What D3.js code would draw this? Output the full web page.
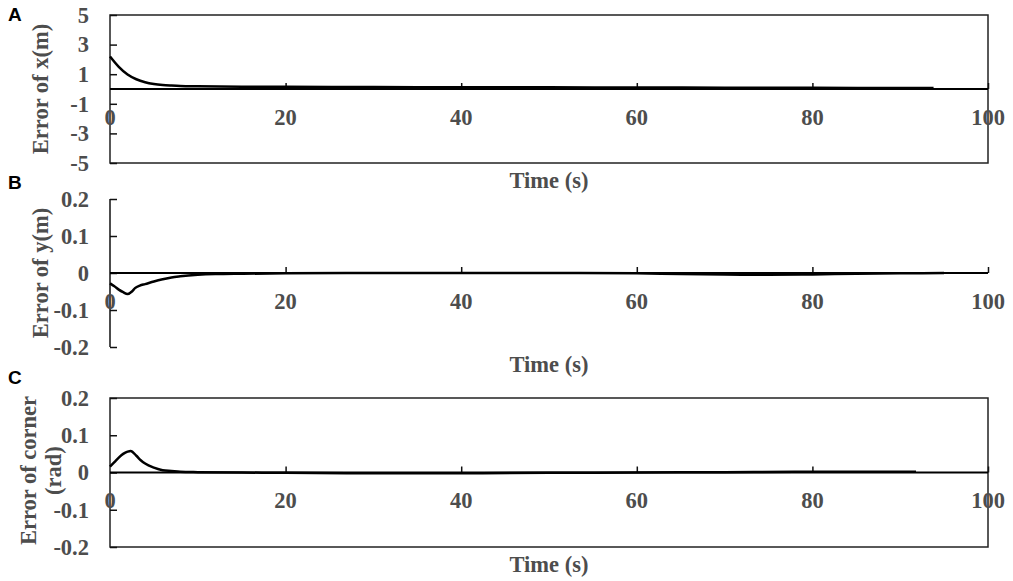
<!DOCTYPE html>
<html>
<head>
<meta charset="utf-8">
<script src="https://cdn.jsdelivr.net/npm/d3@7"></script>
<style>
  html, body { margin: 0; padding: 0; background: #fff; }
  svg { display: block; }
</style>
</head>
<body>
<svg id="chart" width="1013" height="581"></svg>
<script>
// ---------- data ----------
const xTicks = [0, 20, 40, 60, 80, 100];

const timeA = [0, 1, 2, 3, 4, 5, 6, 7, 8, 10, 15, 20, 30, 40, 50, 60, 70, 80, 90, 93.8];
const errX  = [2.2, 1.5, 0.98, 0.66, 0.46, 0.34, 0.27, 0.23, 0.2, 0.18, 0.16, 0.15, 0.13, 0.12, 0.11, 0.1, 0.09, 0.08, 0.07, 0.07];
const yTicksA = [-5, -3, -1, 1, 3, 5];

const timeB = [0, 0.5, 1, 1.5, 2, 2.5, 2.85, 3.4, 4, 5, 6, 7, 8, 10, 12, 15, 20, 30, 40, 50, 60, 65, 70, 75, 80, 85, 90, 95];
const errY  = [-0.028, -0.036, -0.045, -0.052, -0.057, -0.05, -0.041, -0.034, -0.03, -0.023, -0.017, -0.012, -0.009, -0.005, -0.003, -0.002, -0.001, 0, 0, 0, -0.001, -0.003, -0.004, -0.005, -0.004, -0.002, -0.001, 0];
const yTicksB = [-0.2, -0.1, 0, 0.1, 0.2];

const timeC = [0, 0.5, 1, 1.5, 2, 2.35, 3, 3.5, 4, 5, 6, 7, 8, 10, 15, 20, 30, 40, 50, 60, 70, 78, 85, 91.8];
const errC  = [0.016, 0.028, 0.04, 0.05, 0.056, 0.058, 0.045, 0.033, 0.024, 0.013, 0.006, 0.004, 0.002, 0.001, 0, -0.001, -0.002, -0.002, -0.001, 0, 0.001, 0.002, 0.002, 0.002];
const yTicksC = [-0.2, -0.1, 0, 0.1, 0.2];

const panelLetters = ["A", "B", "C"];
const yTitles = [["Error of x(m)"], ["Error of y(m)"], ["Error of corner", "(rad)"]];
const xTitle = "Time (s)";

// ---------- layout ----------
const svg = d3.select("#chart");
const left = 110, right = 988;
const x = d3.scaleLinear().domain([0, 100]).range([left, right]);

const hy = s => s.replace("\u2212", "-");
const fmtInt = d => hy(d3.format("d")(d));
const fmtDec = d => d === 0 ? "0" : hy(d3.format(".1f")(d));

const panels = [
  { top: 15,  bottom: 163, domain: [-5, 5],     ticks: yTicksA, t: timeA, v: errX, box: true,  letterY: 21,  fmt: fmtInt },
  { top: 199, bottom: 347, domain: [-0.2, 0.2], ticks: yTicksB, t: timeB, v: errY, box: false, letterY: 189, fmt: fmtDec },
  { top: 398, bottom: 547, domain: [-0.2, 0.2], ticks: yTicksC, t: timeC, v: errC, box: true,  letterY: 384, fmt: fmtDec }
];

const serif = "'Liberation Serif', 'Times New Roman', Times, serif";
const textCol = "#4d4d4d";

panels.forEach((p, i) => {
  const y = d3.scaleLinear().domain(p.domain).range([p.bottom, p.top]);
  const g = svg.append("g");
  const y0 = y(0);

  // box or left axis
  if (p.box) {
    g.append("rect")
      .attr("x", left).attr("y", p.top)
      .attr("width", right - left).attr("height", p.bottom - p.top)
      .attr("fill", "none").attr("stroke", "#222").attr("stroke-width", 1.5);
  } else {
    g.append("line")
      .attr("x1", left).attr("x2", left).attr("y1", p.top).attr("y2", p.bottom)
      .attr("stroke", "#111").attr("stroke-width", 1.5);
  }

  // y ticks (inward) + labels
  const yAxis = d3.axisRight(y).tickValues(p.ticks).tickSize(7).tickFormat("");
  const ya = g.append("g").attr("transform", `translate(${left},0)`).call(yAxis);
  ya.select(".domain").remove();
  ya.selectAll(".tick line").attr("stroke", "#111").attr("stroke-width", 1.5);

  g.selectAll(".ylab").data(p.ticks).enter().append("text")
    .attr("x", 89).attr("y", d => y(d))
    .attr("dy", "0.35em")
    .attr("text-anchor", "end")
    .attr("font-family", serif).attr("font-weight", "bold")
    .attr("font-size", 22.5).attr("fill", textCol)
    .text(p.fmt);

  // x axis on zero line, ticks upward
  const xAxis = d3.axisTop(x).tickValues(xTicks.filter(d => d !== 0)).tickSize(6).tickFormat("");
  const xa = g.append("g").attr("transform", `translate(0,${y0})`).call(xAxis);
  xa.select(".domain").remove();
  xa.selectAll(".tick line").attr("stroke", "#111").attr("stroke-width", 1.5);
  g.append("line")
    .attr("x1", left).attr("x2", right).attr("y1", y0).attr("y2", y0)
    .attr("stroke", "#000").attr("stroke-width", 2);

  g.selectAll(".xlab").data(xTicks).enter().append("text")
    .attr("x", d => x(d)).attr("y", y0 + 28)
    .attr("dy", "0.35em")
    .attr("text-anchor", "middle")
    .attr("font-family", serif).attr("font-weight", "bold")
    .attr("font-size", 22.5).attr("fill", textCol)
    .text(d => d);

  // x title
  g.append("text")
    .attr("x", (left + right) / 2).attr("y", p.bottom + 17)
    .attr("dy", "0.35em")
    .attr("text-anchor", "middle")
    .attr("font-family", serif).attr("font-weight", "bold")
    .attr("font-size", 22.5).attr("fill", textCol)
    .text(xTitle);

  // y title
  const lines = yTitles[i];
  const cy = (p.top + p.bottom) / 2 + (i === 2 ? -2 : 0);
  const baseX = lines.length === 1 ? 40 : 28;
  lines.forEach((ln, k) => {
    const tx = baseX + k * 25;
    g.append("text")
      .attr("transform", `translate(${tx},${cy}) rotate(-90)`)
      .attr("dy", "0.35em")
      .attr("text-anchor", "middle")
      .attr("font-family", serif).attr("font-weight", "bold")
      .attr("font-size", 22.5).attr("fill", textCol)
      .text(ln);
  });

  // panel letter
  g.append("text")
    .attr("x", 8).attr("y", p.letterY)
    .attr("font-family", "'Liberation Sans', Arial, sans-serif").attr("font-weight", "bold")
    .attr("font-size", 19).attr("fill", "#000")
    .text(panelLetters[i]);

  // curve
  const pts = p.t.map((tt, k) => [tt, p.v[k]]);
  const line = d3.line().x(d => x(d[0])).y(d => y(d[1])).curve(d3.curveMonotoneX);
  g.append("path").datum(pts)
    .attr("d", line)
    .attr("fill", "none").attr("stroke", "#000").attr("stroke-width", 2.5)
    .attr("stroke-linejoin", "round");
});
</script>
</body>
</html>
